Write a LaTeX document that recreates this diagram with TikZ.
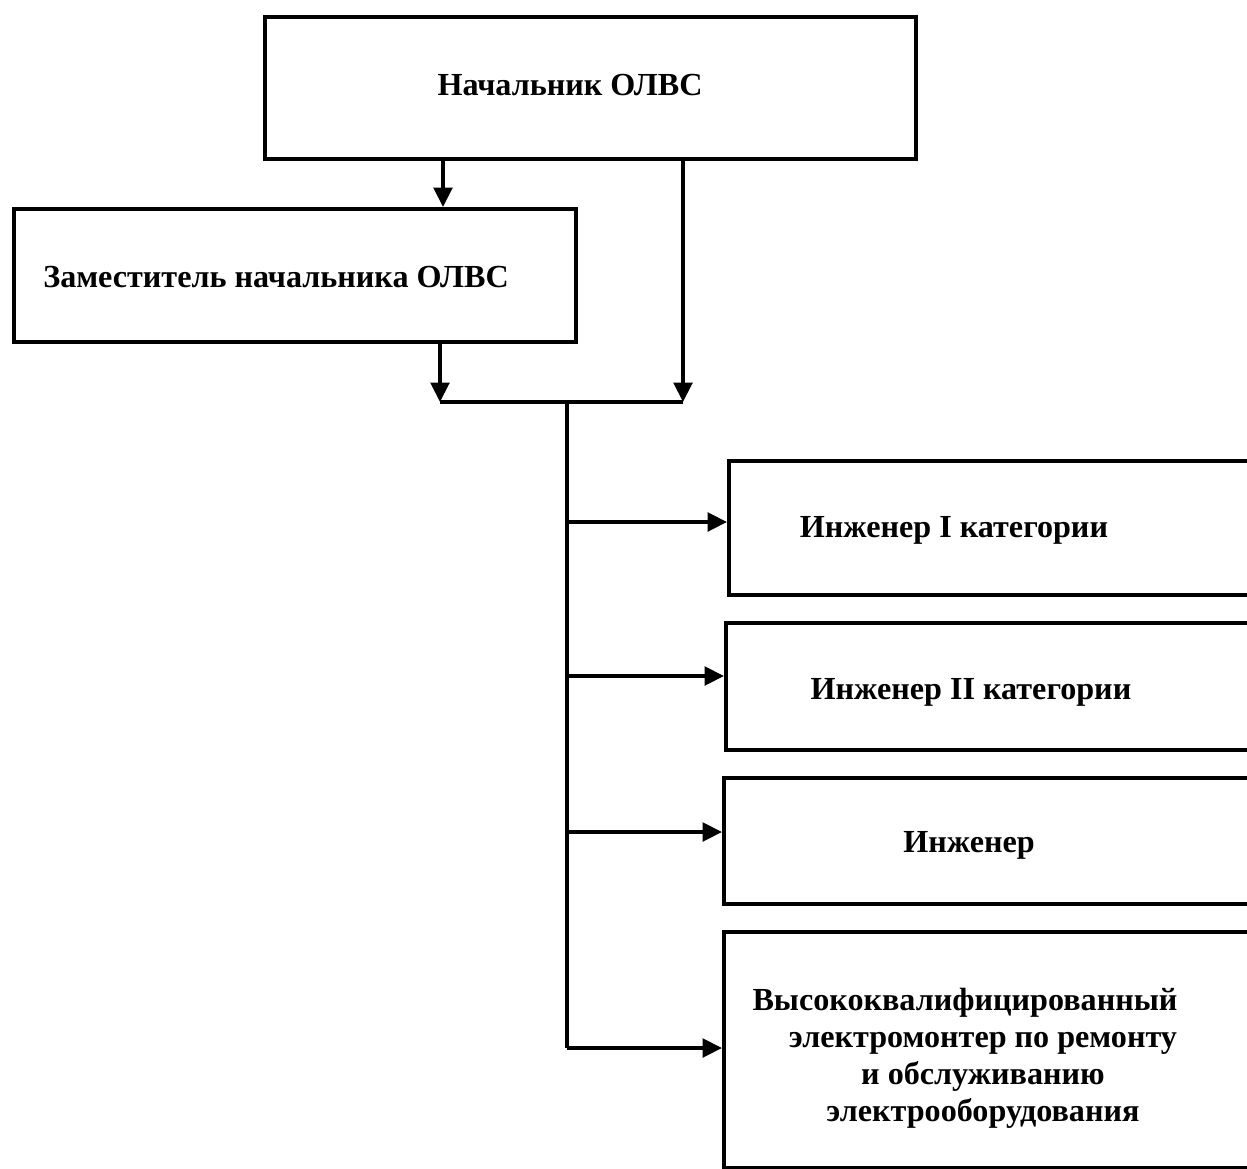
\documentclass[tikz,border=0pt]{standalone}
\usepackage{fontspec}
\setmainfont{Liberation Serif}[BoldFont={Liberation Serif Bold}]
\usetikzlibrary{arrows.meta,positioning}

\begin{document}
\begin{tikzpicture}[
  x=0.02cm,y=-0.02cm,
  unit/.style={draw,line width=2.2pt,anchor=north west,inner sep=0pt},
  lbl/.style={font=\bfseries\fontsize{18.3}{21}\selectfont,align=center,inner sep=0pt},
  link/.style={line width=2.2pt,-{Triangle[length=11pt,width=10.5pt]}},
  bar/.style={line width=2.2pt}
]
  \useasboundingbox (0,0) rectangle (1247,1169);

  % boxes
  \node[unit,minimum width=651*0.02cm,minimum height=142*0.02cm] (chief) at (263,15) {};
  \node[unit,minimum width=562*0.02cm,minimum height=133*0.02cm] (deputy) at (12,207) {};
  \node[unit,minimum width=600*0.02cm,minimum height=134*0.02cm] (engA) at (727,459) {};
  \node[unit,minimum width=600*0.02cm,minimum height=127*0.02cm] (engB) at (724,621) {};
  \node[unit,minimum width=600*0.02cm,minimum height=126*0.02cm] (engC) at (722,776) {};
  \node[unit,minimum width=600*0.02cm,minimum height=236*0.02cm] (elec) at (722,930) {};

  % labels
  \node[lbl] (chiefT) at (570,85) {Начальник ОЛВС};
  \node[lbl] (deputyT) at (276,277) {Заместитель начальника ОЛВС};
  \node[lbl] (engAT) at (954,530) {Инженер I категории};
  \node[lbl] (engBT) at (971,692) {Инженер II категории};
  \node[lbl] (engCT) at (969,845) {Инженер};
  \node[lbl] (elecT) at (983,1058) {Высококвалифицированный\hspace*{0.72cm}\\
    электромонтер по ремонту\\и обслуживанию\\электрооборудования};

  % junctions
  \coordinate (barL) at (440,402);
  \coordinate (barR) at (683,402);
  \coordinate (trunkTop) at (567,402);
  \coordinate (trunkBot) at (567,1048);

  \draw[link] (chief.south -| 443,0) -- (deputy.north -| 443,0);
  \draw[link] (deputy.south -| barL) -- (barL);
  \draw[link] (chief.south -| barR) -- (barR);
  \draw[bar] (barL) -- (barR);
  \draw[bar] (trunkTop) -- (trunkBot);

  \draw[link] (trunkTop |- 0,522) -- (engA.west |- 0,522);
  \draw[link] (trunkTop |- 0,676) -- (engB.west |- 0,676);
  \draw[link] (trunkTop |- 0,832) -- (engC.west |- 0,832);
  \draw[link] (trunkBot) -- (elec.west |- trunkBot);
\end{tikzpicture}
\end{document}
